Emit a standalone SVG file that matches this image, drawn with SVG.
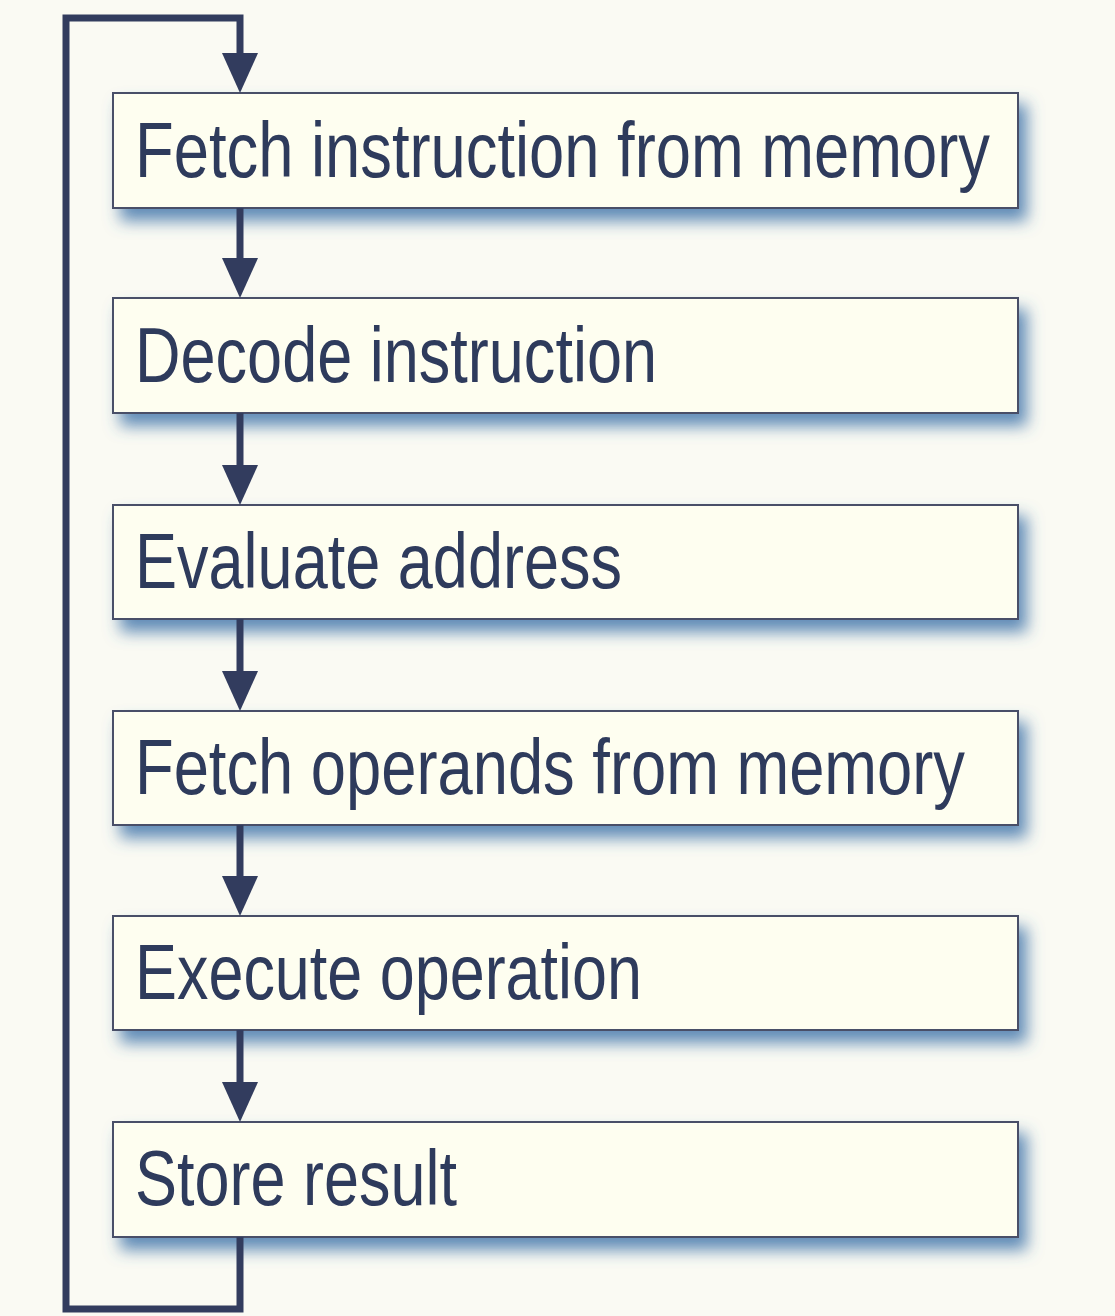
<svg xmlns="http://www.w3.org/2000/svg" width="1115" height="1316" viewBox="0 0 1115 1316">
  <defs>
    <style>
      .box rect { fill: #fefef0; stroke: #4a5068; stroke-width: 2; }
      .box text { font-family: "Liberation Sans Narrow", "Liberation Sans", Arial, sans-serif; font-size: 77px; fill: #2f3a5c; }
      .wire { fill: none; stroke: #323c5e; stroke-width: 7; }
      .head { fill: #323c5e; }
    </style>
    <filter id="shadow" x="-5%" y="-20%" width="112%" height="170%">
      <feGaussianBlur in="SourceAlpha" stdDeviation="8"/>
      <feOffset dx="8" dy="12" result="blur"/>
      <feFlood flood-color="#3a70a8" flood-opacity="0.8"/>
      <feComposite in2="blur" operator="in"/>
      <feMerge>
        <feMergeNode/>
        <feMergeNode in="SourceGraphic"/>
      </feMerge>
    </filter>
  </defs>

  <rect x="0" y="0" width="1115" height="1316" fill="#fafaf3"/>

  <!-- processing steps -->
  <g id="fetch-instruction" class="box" filter="url(#shadow)">
    <rect x="113" y="93" width="905" height="115"/>
    <text x="135" y="177" textLength="855" lengthAdjust="spacingAndGlyphs">Fetch instruction from memory</text>
  </g>
  <g id="decode-instruction" class="box" filter="url(#shadow)">
    <rect x="113" y="298" width="905" height="115"/>
    <text x="135" y="382" textLength="522" lengthAdjust="spacingAndGlyphs">Decode instruction</text>
  </g>
  <g id="evaluate-address" class="box" filter="url(#shadow)">
    <rect x="113" y="505" width="905" height="114"/>
    <text x="135" y="588" textLength="487" lengthAdjust="spacingAndGlyphs">Evaluate address</text>
  </g>
  <g id="fetch-operands" class="box" filter="url(#shadow)">
    <rect x="113" y="711" width="905" height="114"/>
    <text x="135" y="794" textLength="830" lengthAdjust="spacingAndGlyphs">Fetch operands from memory</text>
  </g>
  <g id="execute-operation" class="box" filter="url(#shadow)">
    <rect x="113" y="916" width="905" height="114"/>
    <text x="135" y="999" textLength="507" lengthAdjust="spacingAndGlyphs">Execute operation</text>
  </g>
  <g id="store-result" class="box" filter="url(#shadow)">
    <rect x="113" y="1122" width="905" height="115"/>
    <text x="135" y="1205" textLength="322" lengthAdjust="spacingAndGlyphs">Store result</text>
  </g>

  <!-- connectors -->
  <g id="connectors">
    <!-- loop back from the last step to the first -->
    <path class="wire" d="M240 1237 V1309 H66 V18 H240 V56"/>
    <polygon class="head" points="222,53 258,53 240,93"/>

    <path class="wire" d="M240 208 V261"/>
    <polygon class="head" points="222,258 258,258 240,298"/>

    <path class="wire" d="M240 413 V468"/>
    <polygon class="head" points="222,465 258,465 240,505"/>

    <path class="wire" d="M240 619 V674"/>
    <polygon class="head" points="222,671 258,671 240,711"/>

    <path class="wire" d="M240 825 V879"/>
    <polygon class="head" points="222,876 258,876 240,916"/>

    <path class="wire" d="M240 1030 V1085"/>
    <polygon class="head" points="222,1082 258,1082 240,1122"/>
  </g>
</svg>
